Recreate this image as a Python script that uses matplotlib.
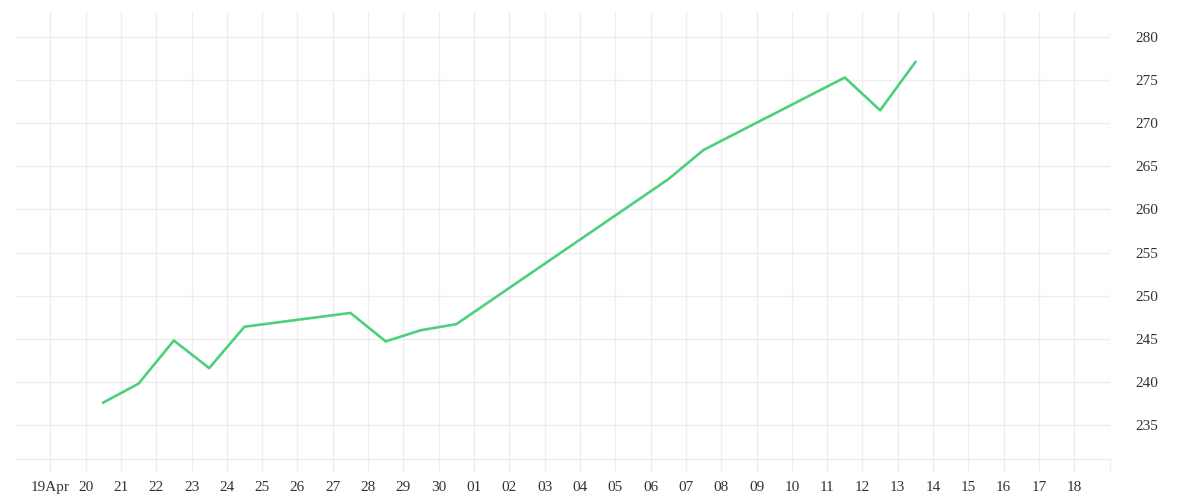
import datetime as dt
import matplotlib
matplotlib.use("Agg")
import matplotlib.pyplot as plt
import matplotlib.dates as mdates

obs_dates = ["2023-04-20", "2023-04-21", "2023-04-22", "2023-04-23", "2023-04-24",
             "2023-04-27", "2023-04-28", "2023-04-29", "2023-04-30",
             "2023-05-06", "2023-05-07", "2023-05-11", "2023-05-12", "2023-05-13"]
obs_values = [237.6, 239.8, 244.8, 241.6, 246.4,
              248.0, 244.7, 246.0, 246.7,
              263.5, 266.9, 275.3, 271.5, 277.1]

tick_start = dt.datetime(2023, 4, 18)
tick_days = 32  # Apr 18 .. May 19
y_ticks = [235, 240, 245, 250, 255, 260, 265, 270, 275, 280]

line_color = "#4cd07d"
grid_color = "#eeeeee"
text_color = "#333333"

x = [dt.datetime.strptime(d, "%Y-%m-%d") + dt.timedelta(hours=12) for d in obs_dates]

fig = plt.figure(figsize=(12, 5), dpi=100)
ax = fig.add_axes([16 / 1200, 41 / 500, (1110 - 16) / 1200, (459 - 12) / 500])

ax.plot(x, obs_values, color=line_color, lw=1.9, solid_joinstyle="round", zorder=3)

ticks = [tick_start + dt.timedelta(days=i) for i in range(tick_days)]
labels = []
for t in ticks:
    if t == dt.datetime(2023, 4, 19):
        labels.append("19Apr")
    elif t.month == 4 and t.day == 18 or t.month == 5 and t.day == 19:
        labels.append("")
    else:
        labels.append("%02d" % t.day)
ax.set_xticks(ticks)
ax.set_xticklabels(labels)
ax.set_xlim(mdates.date2num(tick_start) + 0.03, mdates.date2num(ticks[-1]) + 0.01)

ax.set_yticks(y_ticks)
ax.set_ylim(231.06, 282.9)
ax.yaxis.tick_right()

for s in ["top", "left", "right"]:
    ax.spines[s].set_visible(False)
ax.spines["bottom"].set_color(grid_color)
ax.spines["bottom"].set_linewidth(1)

ax.grid(True, color=grid_color, lw=1, zorder=0)
ax.tick_params(axis="x", length=9, width=1, color=grid_color, pad=7,
               labelsize=11, labelcolor=text_color)
ax.tick_params(axis="y", length=0, pad=18, labelsize=11, labelcolor=text_color)
for lab in ax.get_xticklabels() + ax.get_yticklabels():
    lab.set_fontfamily("Liberation Serif")

fig.savefig("out.png", dpi=100)
